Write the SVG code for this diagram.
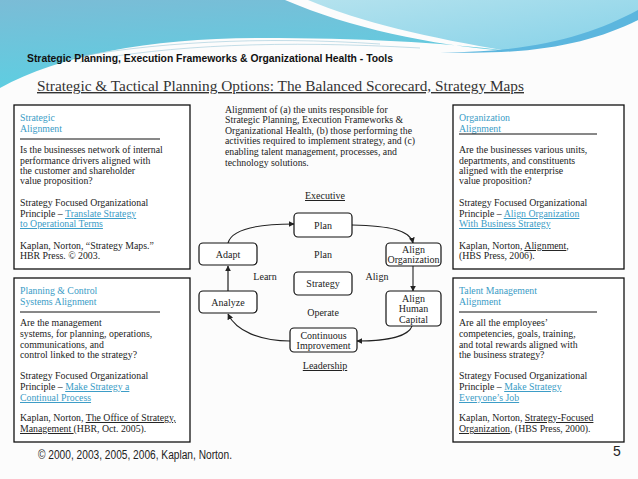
<svg xmlns="http://www.w3.org/2000/svg" width="638" height="479" viewBox="0 0 638 479">
<defs>
<linearGradient id="gL" x1="0" y1="0" x2="0.3" y2="1">
<stop offset="0" stop-color="#7bbcd6"/>
<stop offset="1" stop-color="#5ccfe2"/>
</linearGradient>
<linearGradient id="gR" x1="0" y1="0" x2="1" y2="1">
<stop offset="0" stop-color="#b4e2ee"/>
<stop offset="1" stop-color="#86d2e8"/>
</linearGradient>
<marker id="ah" viewBox="0 0 10 10" refX="9" refY="5" markerWidth="6" markerHeight="6" orient="auto-start-reverse" markerUnits="userSpaceOnUse">
<path d="M0,0 L10,5 L0,10 Z" fill="#222"/>
</marker>
<style>
.bx{fill:#fff;stroke:#111;stroke-width:1.3}
.nd{fill:#fff;stroke:#111;stroke-width:1.2}
.t{font-family:"Liberation Serif","DejaVu Serif",serif;font-size:9.8px;fill:#222}
.h{font-family:"Liberation Serif","DejaVu Serif",serif;font-size:9.8px;fill:#3a9cc6}
.lk{fill:#3a9cc6;text-decoration:underline}
.u{text-decoration:underline}
.n{font-family:"Liberation Serif","DejaVu Serif",serif;font-size:10px;fill:#222;text-anchor:middle}
.rule{stroke:#111;stroke-width:1}
.c{fill:none;stroke:#222;stroke-width:1.1}
</style>
</defs>
<rect width="638" height="479" fill="#fcfcfc"/>
<g id="background">
<path d="M0,0 L285,0 C350,28 430,45 508,51 C440,42 360,38 260,38 C150,38 60,55 0,88 Z" fill="url(#gL)"/>
<path d="M308,0 L638,0 L638,20 C600,32 560,46 508,51 C430,38 360,22 308,0 Z" fill="url(#gR)"/>
<path d="M440,52 C530,53 590,36 638,10 L638,20 C590,44 530,56 440,52 Z" fill="#5cb6de"/>
<path d="M60,60 C150,42 260,36 380,44" fill="none" stroke="#9cc8d8" stroke-width="0.6"/>
<path d="M80,62 C170,45 280,40 420,48" fill="none" stroke="#9cc8d8" stroke-width="0.6"/>
</g>
<g id="header">
<text x="27" y="62" font-family="'Liberation Sans',Arial,sans-serif" font-size="11" font-weight="bold" fill="#111" textLength="366" lengthAdjust="spacingAndGlyphs">Strategic Planning, Execution Frameworks  &amp; Organizational Health - Tools</text>
<text x="37" y="91" font-family="'Liberation Serif','DejaVu Serif',serif" font-size="14" fill="#333" text-decoration="underline" textLength="487" lengthAdjust="spacingAndGlyphs">Strategic &amp; Tactical Planning Options: The Balanced Scorecard, Strategy Maps</text>
</g>
<g id="box-strategic-alignment">
<rect class="bx" x="14" y="105" width="176" height="164"/>
<text class="h" x="20" y="121">Strategic</text>
<text class="h" x="20" y="132">Alignment</text>
<line class="rule" x1="20" y1="139" x2="160" y2="139"/>
<text class="t" x="20" y="153">Is the businesses network of internal</text>
<text class="t" x="20" y="164">performance drivers aligned with</text>
<text class="t" x="20" y="174">the customer and shareholder</text>
<text class="t" x="20" y="184">value proposition?</text>
<text class="t" x="20" y="206">Strategy Focused Organizational</text>
<text class="t" x="20" y="217">Principle – <tspan class="lk">Translate Strategy</tspan></text>
<text class="t" x="20" y="227"><tspan class="lk">to Operational Terms</tspan></text>
<text class="t" x="20" y="249">Kaplan, Norton, “Strategy Maps.”</text>
<text class="t" x="20" y="259">HBR Press. © 2003.</text>
</g>
<g id="box-planning-control">
<rect class="bx" x="14" y="278" width="176" height="164"/>
<text class="h" x="20" y="294">Planning &amp; Control</text>
<text class="h" x="20" y="305">Systems Alignment</text>
<line class="rule" x1="20" y1="312" x2="160" y2="312"/>
<text class="t" x="20" y="326">Are the management</text>
<text class="t" x="20" y="337">systems, for planning, operations,</text>
<text class="t" x="20" y="348">communications, and</text>
<text class="t" x="20" y="358">control linked to the strategy?</text>
<text class="t" x="20" y="379">Strategy Focused Organizational</text>
<text class="t" x="20" y="390">Principle – <tspan class="lk">Make Strategy a</tspan></text>
<text class="t" x="20" y="401"><tspan class="lk">Continual Process</tspan></text>
<text class="t" x="20" y="421">Kaplan, Norton, <tspan class="u">The Office of Strategy,</tspan></text>
<text class="t" x="20" y="432"><tspan class="u">Management </tspan>(HBR, Oct. 2005).</text>
</g>
<g id="box-organization-alignment">
<rect class="bx" x="453" y="105" width="171" height="164"/>
<text class="h" x="459" y="121">Organization</text>
<text class="h" x="459" y="132">Alignment</text>
<line class="rule" x1="459" y1="134" x2="597" y2="134"/>
<text class="t" x="459" y="153">Are the businesses various units,</text>
<text class="t" x="459" y="164">departments, and constituents</text>
<text class="t" x="459" y="174">aligned with the enterprise</text>
<text class="t" x="459" y="184">value proposition?</text>
<text class="t" x="459" y="206">Strategy Focused Organizational</text>
<text class="t" x="459" y="217">Principle – <tspan class="lk">Align Organization</tspan></text>
<text class="t" x="459" y="227"><tspan class="lk">With Business Strategy</tspan></text>
<text class="t" x="459" y="249">Kaplan, Norton, <tspan class="u">Alignment</tspan>,</text>
<text class="t" x="459" y="259">(HBS Press, 2006).</text>
</g>
<g id="box-talent-management">
<rect class="bx" x="453" y="278" width="171" height="164"/>
<text class="h" x="459" y="294">Talent Management</text>
<text class="h" x="459" y="305">Alignment</text>
<line class="rule" x1="459" y1="312" x2="597" y2="312"/>
<text class="t" x="459" y="326">Are all the employees’</text>
<text class="t" x="459" y="337">competencies, goals, training,</text>
<text class="t" x="459" y="348">and total rewards aligned with</text>
<text class="t" x="459" y="358">the business strategy?</text>
<text class="t" x="459" y="379">Strategy Focused Organizational</text>
<text class="t" x="459" y="390">Principle – <tspan class="lk">Make Strategy</tspan></text>
<text class="t" x="459" y="401"><tspan class="lk">Everyone’s Job</tspan></text>
<text class="t" x="459" y="421">Kaplan, Norton, <tspan class="u">Strategy-Focused</tspan></text>
<text class="t" x="459" y="432"><tspan class="u">Organization</tspan>, (HBS Press, 2000).</text>
</g>
<g id="intro-text">
<text class="t" x="225" y="113">Alignment of (a) the units responsible for</text>
<text class="t" x="225" y="123">Strategic Planning, Execution Frameworks  &amp;</text>
<text class="t" x="225" y="134">Organizational Health, (b) those performing the</text>
<text class="t" x="225" y="144">activities required to implement strategy, and (c)</text>
<text class="t" x="225" y="155">enabling  talent management, processes, and</text>
<text class="t" x="225" y="166">technology solutions.</text>
</g>
<g id="cycle-labels">
<text class="n u" x="325" y="199">Executive</text>
<text class="n" x="323" y="258">Plan</text>
<text class="n" x="265" y="280">Learn</text>
<text class="n" x="377" y="280">Align</text>
<text class="n" x="323" y="316">Operate</text>
<text class="n u" x="325" y="369">Leadership</text>
</g>
<g id="connectors">
<path class="c" d="M228,243 C232,228 260,224 294,224" marker-end="url(#ah)"/>
<path class="c" d="M352,225 C390,226 410,230 413,243" marker-end="url(#ah)"/>
<path class="c" d="M413,266 L413,291" marker-end="url(#ah)"/>
<path class="c" d="M412,326 C408,338 380,341 357,341" marker-end="url(#ah)"/>
<path class="c" d="M290,341 C260,341 236,331 228,314" marker-end="url(#ah)"/>
<path d="M228,291 L228,266" fill="none" stroke="#555" stroke-width="1.6" marker-end="url(#ah)"/>
</g>
<g id="node-plan">
<rect class="nd" x="294" y="213" width="58" height="24" rx="4"/>
<text class="n" x="323" y="228.5">Plan</text>
</g>
<g id="node-adapt">
<rect class="nd" x="199" y="243" width="58" height="22" rx="4"/>
<text class="n" x="228" y="257.5">Adapt</text>
</g>
<g id="node-align-organization">
<rect class="nd" x="386" y="243" width="55" height="23" rx="4"/>
<text class="n" x="413.5" y="252.5">Align</text>
<text class="n" x="413.5" y="263">Organization</text>
</g>
<g id="node-strategy">
<rect class="nd" x="294" y="272" width="58" height="23" rx="4"/>
<text class="n" x="323" y="287">Strategy</text>
</g>
<g id="node-analyze">
<rect class="nd" x="199" y="291" width="58" height="22" rx="4"/>
<text class="n" x="228" y="305.5">Analyze</text>
</g>
<g id="node-align-human-capital">
<rect class="nd" x="386" y="291" width="55" height="35" rx="4"/>
<text class="n" x="413.5" y="301.5">Align</text>
<text class="n" x="413.5" y="312">Human</text>
<text class="n" x="413.5" y="322.5">Capital</text>
</g>
<g id="node-continuous-improvement">
<rect class="nd" x="290" y="328" width="67" height="24" rx="4"/>
<text class="n" x="323.5" y="338.5">Continuous</text>
<text class="n" x="323.5" y="349">Improvement</text>
</g>
<g id="footer">
<text x="38" y="459" font-family="'Liberation Sans',Arial,sans-serif" font-size="12" fill="#222" textLength="194" lengthAdjust="spacingAndGlyphs">© 2000, 2003, 2005, 2006, Kaplan, Norton.</text>
<text x="617" y="456" font-family="'Liberation Sans',Arial,sans-serif" font-size="14" fill="#222" text-anchor="middle">5</text>
</g>
</svg>
